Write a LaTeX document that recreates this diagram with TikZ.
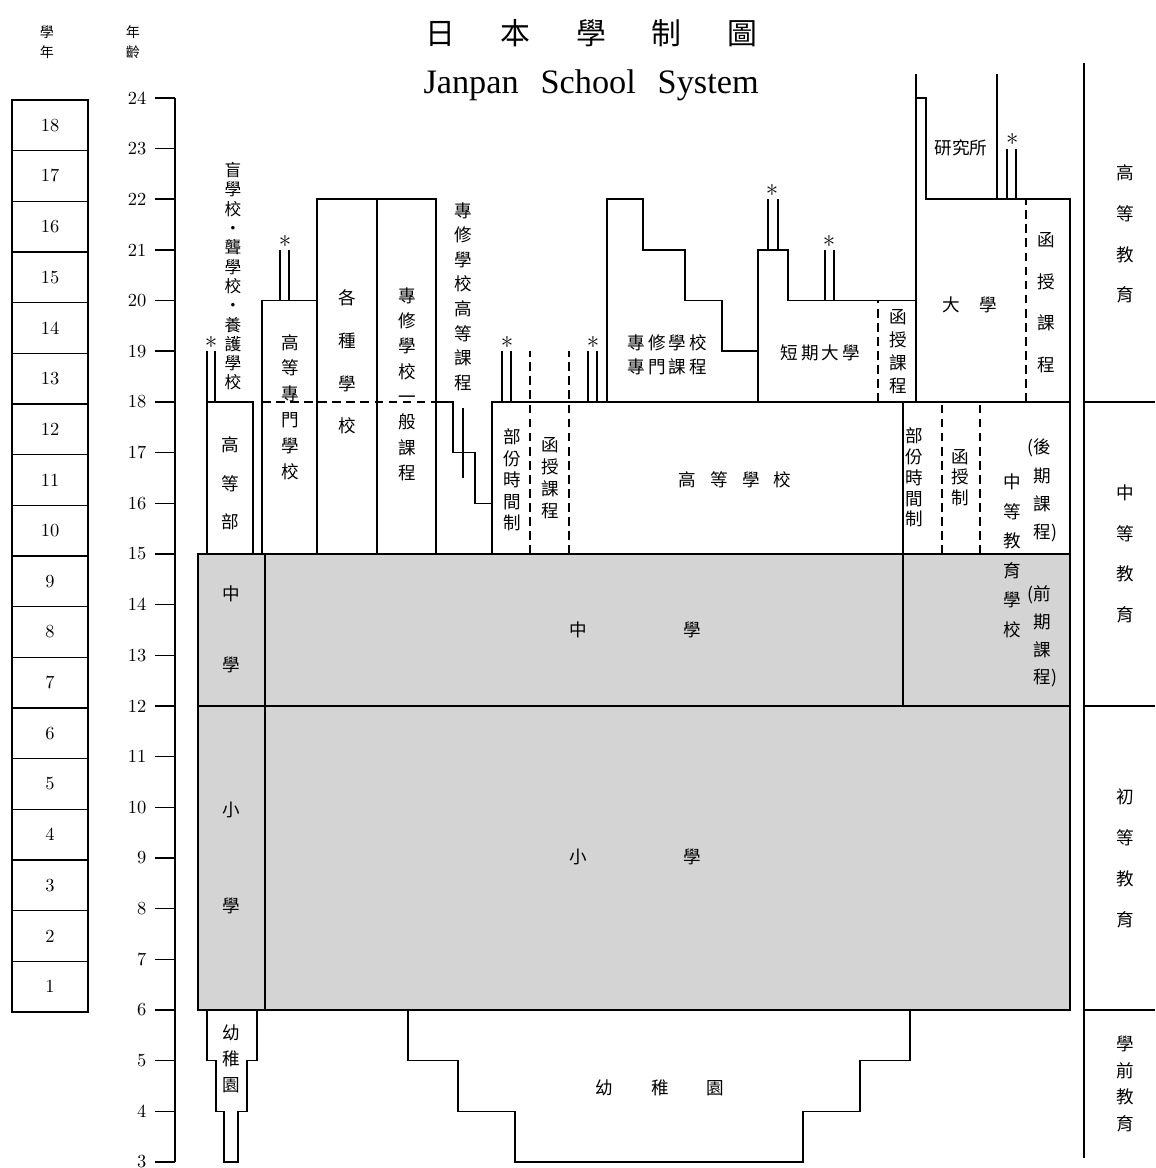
\documentclass[tikz,border=0pt]{standalone}
\usepackage{fontspec}
\newfontfamily\cjk{Noto Sans CJK TC}
\newfontfamily\serifen{Liberation Serif}
\definecolor{shade}{gray}{0.83}

\begin{document}
\begin{tikzpicture}[x=0.02cm,y=1.0134cm,line width=0.85pt,
  lbl/.style={font=\cjk\fontsize{10}{#1}\selectfont,align=center},
  num/.style={font=\fontsize{10.5}{12}\selectfont},
  astk/.style={font=\Large,anchor=base,yshift=-2.5pt},
  dline/.style={dash pattern=on 5pt off 3pt}]
\tikzstyle{every node}+=[inner sep=0pt]
\useasboundingbox (0,2.881) rectangle (1155,25.932);

% headings
\node[font=\cjk\fontsize{17}{17}\selectfont] (title) at (591,25.28) {日\hspace{26pt}本\hspace{26pt}學\hspace{26pt}制\hspace{26pt}圖};
\node[font=\serifen\fontsize{19.5}{20}\selectfont] (subtitle) at (591,24.25) {Janpan\hspace{0.64em}School\hspace{0.64em}System};
\node[font=\cjk\fontsize{8}{11.3}\selectfont,align=center] (hdgrade) at (47,25.1) {學\\年};
\node[font=\cjk\fontsize{8}{11.3}\selectfont,align=center] (hdage) at (133,25.1) {年\\齡};

% grade column and age scale
\foreach \k in {1,...,18} {
  \draw (12,\k+4.96) rectangle (88,\k+5.96);
  \node[num] (g\k) at (50,\k+5.46) {\k};
}
\foreach \a in {3,...,24} {
  \draw (155,\a) -- (175,\a);
  \node[num,anchor=east] (a\a) at (147,\a) {\a};
}
\draw (175,3) -- (175,24);

% compulsory schooling
\filldraw[fill=shade] (198,6) rectangle (1070,15);
\draw (198,12) -- (1070,12);
\draw (265,6) -- (265,15);
\draw (903,12) -- (903,18);
\node[lbl=40.2] (jhleft) at (231,13.51) {中\\學};
\node[lbl=54.4] (elleft) at (231,9.0) {小\\學};
\node[lbl=12] (jh) at (635,13.5) {中\hspace{54.6pt}學};
\node[lbl=12] (el) at (635,9.02) {小\hspace{54.6pt}學};

% special schools
\draw (207,15) -- (207,19);
\draw (207,18) -- (253,18) -- (253,15);
\draw (215,18) -- (215,19);
\node[astk] (s1) at (211,19) {*};
\node[lbl=21.8] (hsdept) at (230,16.39) {高\\等\\部};
\node[font=\cjk\fontsize{9.5}{11}\selectfont,align=center] (special) at (233,20.48) {盲\\學\\校\\・\\聾\\學\\校\\・\\養\\護\\學\\校};

% technical college
\draw (262,15) rectangle (317,20);
\draw (280,20) -- (280,21);
\draw (289,20) -- (289,21);
\node[astk] (s2) at (285,21) {*};
\node[lbl=14.7] (techcol) at (290,17.9) {高\\等\\專\\門\\學\\校};

% miscellaneous and specialized training schools
\draw (317,15) rectangle (377,22);
\draw (377,15) rectangle (436,22);
\draw[dline] (262,18) -- (436,18);
\node[lbl=24.4] (misc) at (347,18.79) {各\\種\\學\\校};
\node[lbl=14.4] (general) at (407,18.35) {專\\修\\學\\校\\一\\般\\課\\程};
\draw (436,18) -- (453,18) -- (453,17) -- (475,17) -- (475,16) -- (492,16);
\draw (463,17.88) -- (463,16.5);
\node[lbl=14] (upper) at (463,20.08) {專\\修\\學\\校\\高\\等\\課\\程};

% senior high school
\draw (492,15) -- (492,18) -- (1070,18);
\draw[dline] (530,15) -- (530,19);
\draw[dline] (569,15) -- (569,19);
\draw (502,18) -- (502,19);
\draw (511,18) -- (511,19);
\node[astk] (s3) at (507,19) {*};
\draw (588,18) -- (588,19);
\draw (597,18) -- (597,19);
\node[astk] (s4) at (593,19) {*};
\node[lbl=12.2] (hsparttime) at (512,16.46) {部\\份\\時\\間\\制};
\node[lbl=12.5] (hscorr) at (550,16.49) {函\\授\\課\\程};
\node[lbl=12] (hs) at (735,16.46) {高\hspace{8pt}等\hspace{8pt}學\hspace{8pt}校};

% professional training course
\draw (607,18) -- (607,22) -- (643,22) -- (643,21) -- (685,21) -- (685,20) -- (722,20) -- (722,19) -- (758,19);
\node[lbl=13.6] (special2) at (667,18.93) {專\,修\,學\,校\\專\,門\,課\,程};

% junior college
\draw (758,18) -- (758,21) -- (788,21) -- (788,20) -- (916,20);
\draw (768,21) -- (768,22);
\draw (778,21) -- (778,22);
\node[astk] (s5) at (772,22) {*};
\draw (825,20) -- (825,21);
\draw (834,20) -- (834,21);
\node[astk] (s6) at (829,21) {*};
\draw[dline] (878,18) -- (878,20);
\node[lbl=12] (jc) at (820,18.97) {短\,期\,大\,學};
\node[lbl=13] (jccorr) at (898,18.99) {函\\授\\課\\程};

% university and graduate school
\draw (916,18) -- (916,24.47);
\draw (916,24) -- (926,24) -- (926,22) -- (1070,22) -- (1070,6);
\draw (997,22) -- (997,24.47);
\draw (1007,22) -- (1007,23);
\draw (1016,22) -- (1016,23);
\node[astk] (s7) at (1012,23) {*};
\draw[dline] (1026,18) -- (1026,22);
\node[lbl=12] (grad) at (961,23.01) {研究所};
\node[lbl=12] (univ) at (970,19.91) {大\hspace{11pt}學};
\node[lbl=23.8] (univcorr) at (1046,19.96) {函\\授\\課\\程};

% secondary education school
\draw[dline] (942,15) -- (942,18);
\draw[dline] (980,15) -- (980,18);
\node[lbl=11.9] (sparttime) at (914,16.51) {部\\份\\時\\間\\制};
\node[lbl=11.6] (scorr) at (960,16.51) {函\\授\\制};
\node[lbl=16.8] (sec) at (1012,14.96) {中\\等\\教\\育\\學\\校};
\node[lbl=16.2] (seclate) at (1042,16.25) {\llap{(}後\\期\\課\\程\rlap{)}};
\node[lbl=15.7] (secearly) at (1042,13.37) {\llap{(}前\\期\\課\\程\rlap{)}};

% kindergarten
\draw (207,6) -- (207,5) -- (216,5) -- (216,4) -- (224,4) -- (224,3) -- (238,3) -- (238,4) -- (247,4) -- (247,5) -- (257,5) -- (257,6);
\node[lbl=14.7] (kgleft) at (231,5.03) {幼\\稚\\園};
\draw (408,6) -- (408,5) -- (458,5) -- (458,4) -- (515,4) -- (515,3) -- (803,3) -- (803,4) -- (860,4) -- (860,5) -- (910,5) -- (910,6);
\node[lbl=12] (kg) at (660,4.46) {幼\hspace{21.5pt}稚\hspace{21.5pt}園};

% stages
\draw (1084,24.69) -- (1084,3.08);
\foreach \a in {6,12,18} \draw (1084,\a) -- (1155,\a);
\node[lbl=23.2] (higher) at (1125,21.31) {高\\等\\教\\育};
\node[lbl=23.2] (secondary) at (1125,15.0) {中\\等\\教\\育};
\node[lbl=23.2] (primary) at (1125,8.99) {初\\等\\教\\育};
\node[lbl=15.3] (preschool) at (1125,4.54) {學\\前\\教\\育};
\end{tikzpicture}
\end{document}
